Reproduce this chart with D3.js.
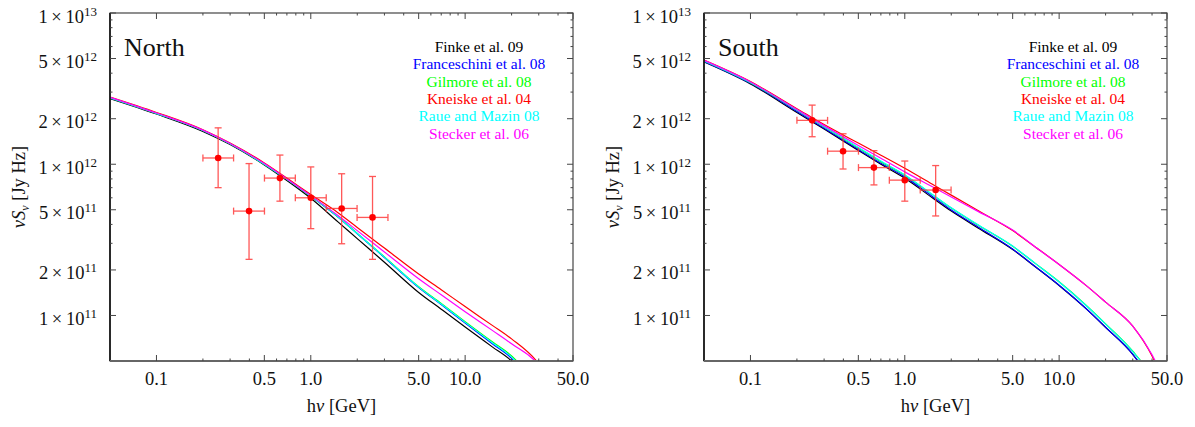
<!DOCTYPE html>
<html>
<head>
<meta charset="utf-8">
<script src="https://cdn.jsdelivr.net/npm/d3@7"></script>
<style>
  html, body { margin: 0; padding: 0; background: #fff; }
  svg { display: block; }
  svg text { font-family: 'Liberation Serif', 'Times New Roman', serif; fill: #111; }
</style>
</head>
<body>
<svg id="chart" width="1195" height="427"></svg>
<script>
// Photon energies (GeV) at which the EBL-absorbed model spectra are tabulated
const energyGrid = [0.05, 0.1, 0.2, 0.3, 0.5, 0.7, 1, 1.5, 2, 3, 5, 7, 10, 15, 20, 30, 40, 50];

// Model names and line colours, in drawing order
const modelNames  = ["Finke et al. 09", "Franceschini et al. 08", "Gilmore et al. 08",
                     "Kneiske et al. 04", "Raue and Mazin 08", "Stecker et al. 06"];
const modelColors = ["#000000", "#0000ff", "#00ff00", "#ff0000", "#00ffff", "#ff00ff"];

// North lobe: model nuS_nu [Jy Hz] at energyGrid
const northFinke        = [2.72e12, 2.15e12, 1.65e12, 1.35e12, 9.9e11, 7.8e11, 5.95e11, 4.16e11, 3.22e11, 2.25e11, 1.42e11, 1.10e11, 8.4e10, 6.2e10, 5.0e10, 3.0e10, 1.8e10, 1.0e10];
const northFranceschini = [2.75e12, 2.17e12, 1.67e12, 1.365e12, 1.0e12, 7.95e11, 6.15e11, 4.48e11, 3.47e11, 2.42e11, 1.53e11, 1.18e11, 8.9e10, 6.5e10, 5.2e10, 3.0e10, 1.8e10, 1.0e10];
const northGilmore      = [2.75e12, 2.17e12, 1.67e12, 1.365e12, 1.0e12, 7.95e11, 6.15e11, 4.5e11, 3.49e11, 2.44e11, 1.55e11, 1.2e11, 9.1e10, 6.7e10, 5.4e10, 3.3e10, 2.0e10, 1.1e10];
const northKneiske      = [2.78e12, 2.2e12, 1.69e12, 1.38e12, 1.02e12, 8.1e11, 6.3e11, 4.78e11, 3.82e11, 2.79e11, 1.88e11, 1.48e11, 1.145e11, 8.6e10, 7.0e10, 4.8e10, 3.0e10, 1.6e10];
const northRaue         = [2.75e12, 2.17e12, 1.67e12, 1.365e12, 1.0e12, 7.95e11, 6.15e11, 4.49e11, 3.48e11, 2.43e11, 1.54e11, 1.19e11, 9.0e10, 6.6e10, 5.3e10, 3.2e10, 1.9e10, 1.05e10];
const northStecker      = [2.77e12, 2.18e12, 1.68e12, 1.37e12, 1.01e12, 8.0e11, 6.2e11, 4.58e11, 3.64e11, 2.63e11, 1.75e11, 1.37e11, 1.06e11, 7.97e10, 6.5e10, 4.7e10, 2.9e10, 1.5e10];

// South lobe: model nuS_nu [Jy Hz] at energyGrid
const southFinke        = [4.75e12, 3.40e12, 2.20e12, 1.71e12, 1.235e12, 1.0e12, 8.07e11, 6.03e11, 4.9e11, 3.78e11, 2.73e11, 2.10e11, 1.58e11, 1.105e11, 8.34e10, 5.53e10, 3.6e10, 2.3e10];
const southFranceschini = [4.78e12, 3.43e12, 2.23e12, 1.73e12, 1.25e12, 1.015e12, 8.25e11, 6.15e11, 4.98e11, 3.83e11, 2.75e11, 2.11e11, 1.585e11, 1.108e11, 8.36e10, 5.54e10, 3.6e10, 2.3e10];
const southGilmore      = [4.82e12, 3.46e12, 2.28e12, 1.77e12, 1.28e12, 1.04e12, 8.45e11, 6.32e11, 5.13e11, 3.95e11, 2.87e11, 2.21e11, 1.67e11, 1.165e11, 8.8e10, 5.8e10, 3.95e10, 2.55e10];
const southKneiske      = [4.88e12, 3.52e12, 2.33e12, 1.83e12, 1.38e12, 1.147e12, 9.4e11, 7.40e11, 6.25e11, 4.92e11, 3.64e11, 2.84e11, 2.175e11, 1.576e11, 1.226e11, 8.5e10, 5.4e10, 3.2e10];
const southRaue         = [4.83e12, 3.47e12, 2.29e12, 1.78e12, 1.29e12, 1.05e12, 8.49e11, 6.34e11, 5.15e11, 3.96e11, 2.88e11, 2.21e11, 1.665e11, 1.16e11, 8.76e10, 5.77e10, 3.9e10, 2.5e10];
const southStecker      = [4.86e12, 3.50e12, 2.30e12, 1.80e12, 1.33e12, 1.095e12, 8.9e11, 7.12e11, 6.08e11, 4.86e11, 3.67e11, 2.84e11, 2.175e11, 1.576e11, 1.226e11, 8.5e10, 5.5e10, 3.4e10];

// Fermi-LAT lobe measurements: bin centre, bin edges, flux and 1-sigma range
const northEnergy   = [0.251, 0.398, 0.631, 1.0, 1.585, 2.512];
const northBinLow   = [0.2, 0.316, 0.501, 0.794, 1.259, 1.995];
const northBinHigh  = [0.316, 0.501, 0.794, 1.259, 1.995, 3.162];
const northFlux     = [1.10e12, 4.9e11, 8.1e11, 6.0e11, 5.1e11, 4.45e11];
const northFluxLow  = [7.0e11, 2.35e11, 5.7e11, 3.75e11, 2.98e11, 2.35e11];
const northFluxHigh = [1.74e12, 1.01e12, 1.15e12, 9.6e11, 8.65e11, 8.3e11];

const southEnergy   = [0.251, 0.398, 0.631, 1.0, 1.585];
const southBinLow   = [0.2, 0.316, 0.501, 0.794, 1.259];
const southBinHigh  = [0.316, 0.501, 0.794, 1.259, 1.995];
const southFlux     = [1.95e12, 1.22e12, 9.5e11, 7.85e11, 6.75e11];
const southFluxLow  = [1.52e12, 9.3e11, 7.3e11, 5.7e11, 4.55e11];
const southFluxHigh = [2.46e12, 1.59e12, 1.23e12, 1.05e12, 9.8e11];

// Axis ticks
const xMajorTicks  = [0.1, 0.5, 1, 5, 10, 50];
const xTickLabels  = ["0.1", "0.5", "1.0", "5.0", "10.0", "50.0"];
const xMinorTicks  = [0.2, 0.3, 0.4, 0.6, 0.7, 0.8, 0.9, 2, 3, 4, 6, 7, 8, 9, 20, 30, 40];
const yMajorTicks  = [1e11, 2e11, 5e11, 1e12, 2e12, 5e12, 1e13];
const yTickMantissa = ["1", "2", "5", "1", "2", "5", "1"];
const yTickExponent = ["11", "11", "11", "12", "12", "12", "13"];
const yMinorTicks  = [3e11, 4e11, 6e11, 7e11, 8e11, 9e11, 3e12, 4e12, 6e12, 7e12, 8e12, 9e12];

const xDomain = [0.05, 50];
const yDomain = [5e10, 1e13];

const panels = [
  { title: "North", left: 110, models: [northFinke, northFranceschini, northGilmore, northKneiske, northRaue, northStecker],
    pts: { e: northEnergy, eLo: northBinLow, eHi: northBinHigh, f: northFlux, fLo: northFluxLow, fHi: northFluxHigh } },
  { title: "South", left: 704, models: [southFinke, southFranceschini, southGilmore, southKneiske, southRaue, southStecker],
    pts: { e: southEnergy, eLo: southBinLow, eHi: southBinHigh, f: southFlux, fLo: southFluxLow, fHi: southFluxHigh } }
];

const plotW = 463, plotTop = 13, plotBottom = 361;
const svg = d3.select("#chart");

panels.forEach((p, pi) => {
  const x = d3.scaleLog().domain(xDomain).range([p.left, p.left + plotW]);
  const y = d3.scaleLog().domain(yDomain).range([plotBottom, plotTop]);
  const g = svg.append("g");

  const clipId = "clip" + pi;
  svg.append("defs").append("clipPath").attr("id", clipId)
    .append("rect").attr("x", p.left).attr("y", plotTop)
    .attr("width", plotW).attr("height", plotBottom - plotTop);

  // model curves
  const line = d3.line().x(d => x(d[0])).y(d => y(d[1])).curve(d3.curveMonotoneX);
  const curves = g.append("g").attr("clip-path", `url(#${clipId})`);
  p.models.forEach((vals, i) => {
    curves.append("path")
      .datum(energyGrid.map((e, k) => [e, vals[k]]))
      .attr("d", line)
      .attr("fill", "none")
      .attr("stroke", modelColors[i])
      .attr("stroke-width", 1.2);
  });

  // data points with error bars
  const pts = g.append("g").attr("clip-path", `url(#${clipId})`);
  const n = p.pts.e.length;
  const errCol = "#ff3b3b", cap = 3.5;
  for (let k = 0; k < n; k++) {
    const cx = x(p.pts.e[k]), cy = y(p.pts.f[k]);
    const xl = x(p.pts.eLo[k]), xr = x(p.pts.eHi[k]);
    const yt = y(p.pts.fHi[k]), yb = y(p.pts.fLo[k]);
    const eb = pts.append("g").attr("stroke", errCol).attr("stroke-width", 1.3).attr("opacity", 0.85);
    eb.append("line").attr("x1", xl).attr("x2", xr).attr("y1", cy).attr("y2", cy);
    eb.append("line").attr("x1", cx).attr("x2", cx).attr("y1", yt).attr("y2", yb);
    eb.append("line").attr("x1", cx - cap).attr("x2", cx + cap).attr("y1", yt).attr("y2", yt);
    eb.append("line").attr("x1", cx - cap).attr("x2", cx + cap).attr("y1", yb).attr("y2", yb);
    eb.append("line").attr("x1", xl).attr("x2", xl).attr("y1", cy - cap).attr("y2", cy + cap);
    eb.append("line").attr("x1", xr).attr("x2", xr).attr("y1", cy - cap).attr("y2", cy + cap);
    pts.append("circle").attr("cx", cx).attr("cy", cy).attr("r", 3.3).attr("fill", "#ff0000");
  }

  // frame
  const x0 = p.left, x1 = p.left + plotW;
  g.append("rect").attr("x", x0).attr("y", plotTop).attr("width", plotW).attr("height", plotBottom - plotTop)
    .attr("fill", "none").attr("stroke", "#333").attr("stroke-width", 1.1);
  g.append("line").attr("x1", x0).attr("x2", x0).attr("y1", plotTop).attr("y2", plotBottom)
    .attr("stroke", "#111").attr("stroke-width", 1.6);
  g.append("line").attr("x1", x0).attr("x2", x1).attr("y1", plotBottom).attr("y2", plotBottom)
    .attr("stroke", "#666").attr("stroke-width", 1.8);

  // inward ticks on all four sides
  const ticks = g.append("g").attr("stroke", "#444").attr("stroke-width", 1);
  const majLen = 6, minLen = 2.5;
  xMajorTicks.forEach(v => {
    ticks.append("line").attr("x1", x(v)).attr("x2", x(v)).attr("y1", plotBottom).attr("y2", plotBottom - majLen);
    ticks.append("line").attr("x1", x(v)).attr("x2", x(v)).attr("y1", plotTop).attr("y2", plotTop + majLen);
  });
  xMinorTicks.forEach(v => {
    ticks.append("line").attr("x1", x(v)).attr("x2", x(v)).attr("y1", plotBottom).attr("y2", plotBottom - minLen);
    ticks.append("line").attr("x1", x(v)).attr("x2", x(v)).attr("y1", plotTop).attr("y2", plotTop + minLen);
  });
  yMajorTicks.forEach(v => {
    ticks.append("line").attr("x1", x0).attr("x2", x0 + majLen).attr("y1", y(v)).attr("y2", y(v));
    ticks.append("line").attr("x1", x1).attr("x2", x1 - majLen).attr("y1", y(v)).attr("y2", y(v));
  });
  yMinorTicks.forEach(v => {
    ticks.append("line").attr("x1", x0).attr("x2", x0 + minLen).attr("y1", y(v)).attr("y2", y(v));
    ticks.append("line").attr("x1", x1).attr("x2", x1 - minLen).attr("y1", y(v)).attr("y2", y(v));
  });

  // x tick labels
  xMajorTicks.forEach((v, i) => {
    g.append("text").attr("x", x(v)).attr("y", 385).attr("text-anchor", "middle")
      .attr("font-size", 18.5).text(xTickLabels[i]);
  });

  // y tick labels: m × 10^e
  yMajorTicks.forEach((v, i) => {
    const t = g.append("text").attr("x", x0 - 13).attr("y", y(v) + 9.5)
      .attr("text-anchor", "end").attr("font-size", 18.5);
    t.append("tspan").text(yTickMantissa[i] + "\u2009\u00d7\u200910");
    t.append("tspan").attr("dy", -7).attr("font-size", 13).text(yTickExponent[i]);
  });

  // axis titles
  g.append("text").attr("x", (x0 + x1) / 2).attr("y", 412).attr("text-anchor", "middle")
    .attr("font-size", 18.5)
    .call(t => {
      t.append("tspan").text("h");
      t.append("tspan").attr("font-style", "italic").text("\u03bd");
      t.append("tspan").text(" [GeV]");
    });
  g.append("text").attr("transform", `translate(${x0 - 85},${(plotTop + plotBottom) / 2}) rotate(-90)`)
    .attr("text-anchor", "middle").attr("font-size", 18.5)
    .call(t => {
      t.append("tspan").attr("font-style", "italic").text("\u03bdS");
      t.append("tspan").attr("font-style", "italic").attr("font-size", 12).attr("dy", 4).text("\u03bd");
      t.append("tspan").attr("dy", -4).text(" [Jy Hz]");
    });

  // panel title
  g.append("text").attr("x", x0 + 14).attr("y", 56).attr("font-size", 26).text(p.title);

  // legend
  modelNames.forEach((name, i) => {
    g.append("text").attr("x", x0 + 369).attr("y", 52 + i * 17.3)
      .attr("text-anchor", "middle").attr("font-size", 15.5)
      .style("fill", modelColors[i]).text(name);
  });
});
</script>
</body>
</html>
